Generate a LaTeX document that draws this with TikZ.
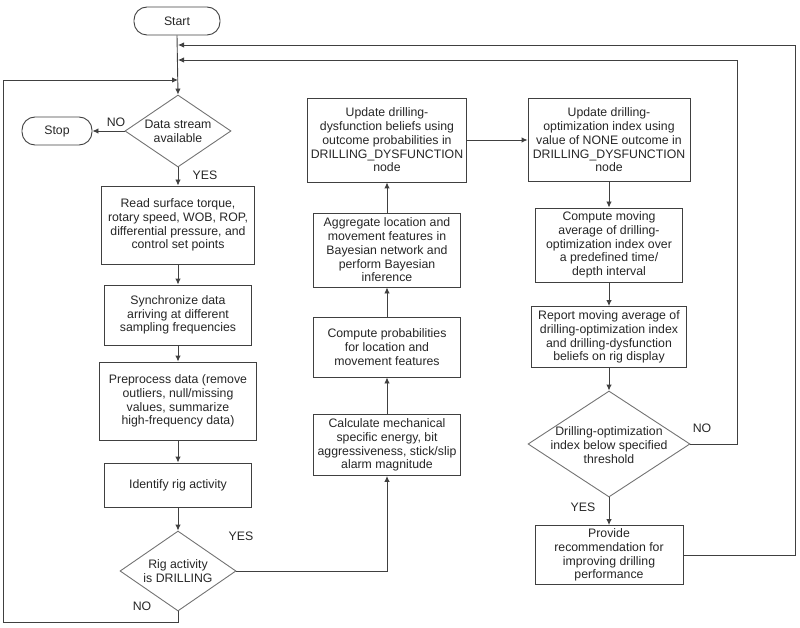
\documentclass[tikz,border=0pt]{standalone}
\usepackage{fontspec}
\setmainfont{Liberation Sans}
\usetikzlibrary{shapes.geometric,arrows.meta}
\begin{document}
\begin{tikzpicture}[x=1pt,y=-1pt,
  every node/.style={font=\fontsize{12.3}{13.8}\selectfont, text=black!85},
  box/.style={draw=black!75, line width=0.9pt, align=center, inner sep=1pt},
  term/.style={draw=black!75, line width=0.9pt, rounded corners=13pt, align=center},
  dec/.style={draw=black!55, line width=0.9pt, diamond, inner sep=0pt},
  dtext/.style={align=center, inner sep=0pt},
  lab/.style={font=\fontsize{12.3}{13}\selectfont},
  conn/.style={draw=black!75, line width=0.9pt},
  arr/.style={conn, -{Latex[length=6pt,width=5.5pt]}}]
\useasboundingbox (0,0) rectangle (800,628);
% left column
\node[term, minimum width=86pt, minimum height=28pt] (start) at (177,21) {Start};
\node[term, minimum width=70pt, minimum height=28pt] (stop) at (57,131) {Stop};
\node[dec, minimum width=106pt, minimum height=72pt] (ds) at (178,131) {};
\node[dtext] (dst) at (ds) {Data stream\\available};
\node[box, minimum width=153pt, minimum height=78pt] (read) at (178,225) {Read surface torque,\\rotary speed, WOB, ROP,\\differential pressure, and\\control set points};
\node[box, minimum width=147pt, minimum height=60pt] (sync) at (178,315) {Synchronize data\\arriving at different\\sampling frequencies};
\node[box, minimum width=157pt, minimum height=78pt] (pre) at (178,401) {Preprocess data (remove\\outliers, null/missing\\values, summarize\\high-frequency data)};
\node[box, minimum width=147pt, minimum height=44pt] (ident) at (178,485) {Identify rig activity};
\node[dec, minimum width=116pt, minimum height=80pt] (rig) at (178,571) {};
\node[dtext] (rigt) at (rig) {Rig activity\\is DRILLING};
% middle column
\node[box, minimum width=147pt, minimum height=61pt] (calc) at (387,445) {Calculate mechanical\\specific energy, bit\\aggressiveness, stick/slip\\alarm magnitude};
\node[box, minimum width=147pt, minimum height=60pt] (prob) at (387,347) {Compute probabilities\\for location and\\movement features};
\node[box, minimum width=147pt, minimum height=74pt] (agg) at (387,250) {Aggregate location and\\movement features in\\Bayesian network and\\perform Bayesian\\inference};
\node[box, minimum width=159pt, minimum height=84pt] (upd) at (387,140) {Update drilling-\\dysfunction beliefs using\\outcome probabilities in\\DRILLING\_DYSFUNCTION\\node};
% right column
\node[box, minimum width=162pt, minimum height=83pt] (opt) at (609,140) {Update drilling-\\optimization index using\\value of NONE outcome in\\DRILLING\_DYSFUNCTION\\node};
\node[box, minimum width=147pt, minimum height=74pt] (mov) at (609,245) {Compute moving\\average of drilling-\\optimization index over\\a predefined time/\\depth interval};
\node[box, minimum width=155pt, minimum height=61pt] (rep) at (609,337) {Report moving average of\\drilling-optimization index\\and drilling-dysfunction\\beliefs on rig display};
\node[dec, minimum width=162pt, minimum height=106pt] (thr) at (609,444) {};
\node[dtext] (thrt) at (609,445) {Drilling-optimization\\index below specified\\threshold};
\node[box, minimum width=148pt, minimum height=59pt] (prov) at (609,555) {Provide\\recommendation for\\improving drilling\\performance};
% labels
\node[lab] (lno1) at (116,122) {NO};
\node[lab] (lyes1) at (205,175) {YES};
\node[lab] (lyes2) at (241,536) {YES};
\node[lab] (lno2) at (142,606) {NO};
\node[lab] (lno3) at (702,428) {NO};
\node[lab] (lyes3) at (583,507) {YES};
% coordinates
\coordinate (c45) at (178,45);
\coordinate (c60) at (178,60);
\coordinate (c80) at (178,80);
\coordinate (r1) at (795,45);
\coordinate (r2) at (737,60);
\coordinate (lb) at (3,622);
% connectors
\draw[arr] (start.south) -- (ds.north);
\draw[arr] (ds.west) -- (stop.east);
\draw[arr] (ds.south) -- (read.north);
\draw[arr] (read.south) -- (sync.north);
\draw[arr] (sync.south) -- (pre.north);
\draw[arr] (pre.south) -- (ident.north);
\draw[arr] (ident.south) -- (rig.north);
\draw[arr] (rig.east) -| (calc.south);
\draw[arr] (rig.south) |- (lb) |- (c80);
\draw[arr] (calc.north) -- (prob.south);
\draw[arr] (prob.north) -- (agg.south);
\draw[arr] (agg.north) -- (upd.south);
\draw[arr] (upd.east) -- (opt.west);
\draw[arr] (opt.south) -- (mov.north);
\draw[arr] (mov.south) -- (rep.north);
\draw[arr] (rep.south) -- (thr.north);
\draw[arr] (thr.south) -- (prov.north);
\draw[arr] (thr.east) -| (r2) -- (c60);
\draw[arr] (prov.east) -| (r1) -- (c45);
\end{tikzpicture}
\end{document}
